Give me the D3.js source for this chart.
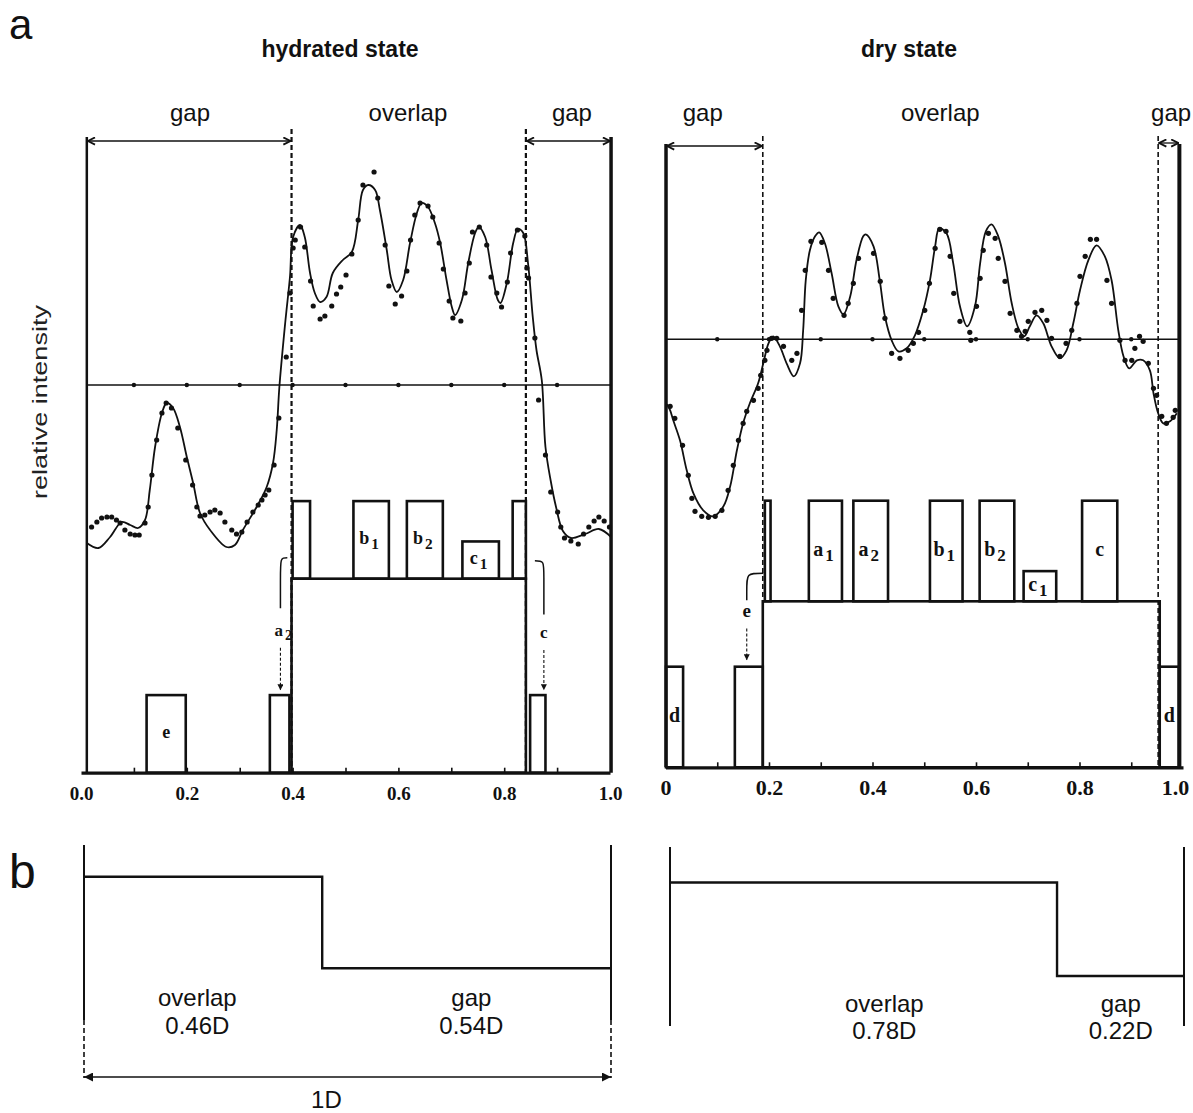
<!DOCTYPE html>
<html>
<head>
<meta charset="utf-8">
<script src="https://cdn.jsdelivr.net/npm/d3@7"></script>
<style>
  body { margin: 0; background: #fff; }
  svg { display: block; }
</style>
</head>
<body>
<script>
var W = 1193, H = 1113
const ink = '#111'

// DATA : x is the fraction of the period D, y is relative intensity (baseline 0)
var hydCurve = [[0.011,-1.58],[0.033,-1.63],[0.055,-1.52],[0.077,-1.37],[0.093,-1.40],[0.108,-1.43],[0.121,-1.35],
  [0.130,-1.05],[0.140,-0.62],[0.153,-0.28],[0.162,-0.18],[0.174,-0.23],[0.187,-0.42],[0.200,-0.72],[0.212,-0.98],
  [0.225,-1.28],[0.244,-1.45],[0.275,-1.62],[0.291,-1.60],[0.306,-1.45],[0.332,-1.22],[0.351,-1.02],[0.363,-0.78],
  [0.370,-0.45],[0.375,-0.02],[0.386,0.62],[0.395,1.08],[0.401,1.48],[0.414,1.60],[0.423,1.48],[0.433,1.12],
  [0.442,0.92],[0.452,0.83],[0.464,0.88],[0.476,1.12],[0.495,1.25],[0.512,1.33],[0.524,1.65],[0.533,1.95],
  [0.543,2.00],[0.556,1.95],[0.565,1.75],[0.578,1.35],[0.587,1.05],[0.597,0.93],[0.609,1.05],[0.622,1.42],
  [0.635,1.72],[0.644,1.82],[0.656,1.78],[0.669,1.62],[0.679,1.42],[0.691,1.05],[0.701,0.78],[0.707,0.70],
  [0.720,0.85],[0.732,1.22],[0.745,1.52],[0.752,1.58],[0.764,1.48],[0.776,1.15],[0.788,0.85],[0.793,0.82],
  [0.805,1.02],[0.817,1.42],[0.826,1.56],[0.836,1.52],[0.845,1.22],[0.854,0.68],[0.861,0.35],[0.871,0.05],
  [0.878,-0.62],[0.888,-0.96],[0.898,-1.22],[0.911,-1.46],[0.926,-1.53],[0.953,-1.49],[0.979,-1.44],[1.002,-1.52]]

var hydDots = [[0.020,-1.42],[0.030,-1.37],[0.039,-1.33],[0.049,-1.32],[0.058,-1.32],[0.067,-1.35],[0.074,-1.38],
  [0.083,-1.45],[0.093,-1.49],[0.102,-1.50],[0.110,-1.50],[0.121,-1.38],[0.127,-1.22],[0.134,-0.90],[0.143,-0.55],
  [0.153,-0.28],[0.161,-0.18],[0.171,-0.23],[0.183,-0.43],[0.198,-0.75],[0.211,-1.00],[0.219,-1.22],[0.225,-1.31],
  [0.234,-1.30],[0.244,-1.27],[0.253,-1.25],[0.263,-1.28],[0.272,-1.37],[0.285,-1.45],[0.294,-1.49],[0.304,-1.47],
  [0.314,-1.37],[0.325,-1.27],[0.335,-1.20],[0.342,-1.15],[0.348,-1.10],[0.355,-1.05],[0.365,-0.80],[0.374,-0.33],
  [0.388,0.28],[0.395,0.92],[0.401,1.37],[0.405,1.45],[0.415,1.58],[0.423,1.38],[0.434,1.04],[0.439,0.79],
  [0.452,0.66],[0.461,0.69],[0.474,0.79],[0.483,0.91],[0.491,0.98],[0.501,1.10],[0.512,1.31],[0.524,1.65],
  [0.533,2.00],[0.554,2.13],[0.561,1.87],[0.575,1.40],[0.582,0.99],[0.594,0.81],[0.606,0.89],[0.616,1.14],
  [0.623,1.45],[0.631,1.70],[0.641,1.82],[0.656,1.79],[0.665,1.68],[0.677,1.42],[0.685,1.16],[0.696,0.84],
  [0.703,0.67],[0.718,0.64],[0.726,0.92],[0.734,1.22],[0.740,1.53],[0.753,1.58],[0.767,1.40],[0.775,1.08],
  [0.786,0.92],[0.795,0.78],[0.806,1.03],[0.812,1.32],[0.825,1.55],[0.839,1.49],[0.843,1.17],[0.846,1.07],
  [0.858,0.47],[0.865,-0.15],[0.878,-0.70],[0.888,-1.07],[0.901,-1.27],[0.907,-1.42],[0.914,-1.53],[0.926,-1.56],
  [0.940,-1.59],[0.950,-1.49],[0.960,-1.42],[0.970,-1.36],[0.979,-1.32],[0.989,-1.36],[0.999,-1.42]]

var dryCurve = [[0.003,-0.65],[0.009,-0.71],[0.015,-0.81],[0.028,-1.01],[0.041,-1.31],[0.054,-1.54],[0.073,-1.71],
  [0.092,-1.77],[0.112,-1.67],[0.125,-1.47],[0.138,-1.11],[0.150,-0.84],[0.163,-0.64],[0.179,-0.44],[0.189,-0.24],
  [0.199,-0.04],[0.208,0.03],[0.221,-0.07],[0.234,-0.24],[0.248,-0.37],[0.260,-0.24],[0.266,0.09],[0.271,0.59],
  [0.279,0.89],[0.289,1.03],[0.297,1.07],[0.308,0.96],[0.321,0.66],[0.334,0.33],[0.344,0.25],[0.357,0.43],
  [0.369,0.79],[0.382,1.03],[0.387,1.05],[0.402,0.93],[0.414,0.59],[0.424,0.23],[0.437,-0.01],[0.450,-0.12],
  [0.466,-0.09],[0.482,0.04],[0.498,0.29],[0.511,0.59],[0.521,0.93],[0.529,1.11],[0.543,1.06],[0.556,0.76],
  [0.569,0.33],[0.583,0.13],[0.598,0.33],[0.608,0.76],[0.619,1.08],[0.630,1.15],[0.643,1.03],[0.656,0.76],
  [0.669,0.36],[0.682,0.11],[0.693,0.03],[0.704,0.13],[0.717,0.24],[0.730,0.16],[0.746,-0.07],[0.762,-0.19],
  [0.775,-0.11],[0.788,0.16],[0.801,0.49],[0.817,0.79],[0.833,0.94],[0.849,0.83],[0.862,0.59],[0.875,0.09],
  [0.885,-0.17],[0.896,-0.29],[0.911,-0.21],[0.923,-0.21],[0.936,-0.31],[0.943,-0.54],[0.952,-0.74],[0.962,-0.84],
  [0.975,-0.82],[0.988,-0.74]]

var dryDots = [[0.009,-0.67],[0.018,-0.79],[0.033,-1.06],[0.044,-1.36],[0.051,-1.59],[0.057,-1.72],[0.070,-1.77],
  [0.083,-1.78],[0.096,-1.77],[0.109,-1.71],[0.121,-1.51],[0.131,-1.26],[0.141,-1.01],[0.150,-0.84],[0.157,-0.72],
  [0.170,-0.61],[0.179,-0.49],[0.184,-0.36],[0.192,-0.21],[0.196,-0.11],[0.205,0.01],[0.215,0.01],[0.228,-0.07],
  [0.244,-0.21],[0.254,-0.14],[0.263,0.29],[0.270,0.69],[0.281,0.98],[0.302,0.97],[0.315,0.69],[0.324,0.41],
  [0.345,0.24],[0.353,0.36],[0.363,0.56],[0.373,0.81],[0.402,0.86],[0.415,0.58],[0.424,0.21],[0.437,-0.14],
  [0.453,-0.19],[0.469,-0.11],[0.479,-0.04],[0.489,0.07],[0.501,0.29],[0.510,0.56],[0.521,0.91],[0.530,1.10],
  [0.542,1.08],[0.550,0.83],[0.557,0.46],[0.569,0.18],[0.588,0.07],[0.590,-0.01],[0.601,0.33],[0.608,0.61],
  [0.614,0.89],[0.624,1.06],[0.637,1.01],[0.643,0.81],[0.656,0.58],[0.666,0.26],[0.679,0.09],[0.688,0.03],
  [0.695,0.08],[0.701,0.18],[0.714,0.27],[0.727,0.29],[0.737,0.19],[0.746,0.01],[0.762,-0.17],[0.774,-0.04],
  [0.785,0.09],[0.795,0.36],[0.801,0.63],[0.811,0.83],[0.821,1.00],[0.833,1.00],[0.853,0.59],[0.862,0.36],
  [0.878,-0.01],[0.888,-0.21],[0.901,-0.21],[0.907,-0.09],[0.916,0.03],[0.923,-0.02],[0.933,-0.24],[0.943,-0.49],
  [0.949,-0.56],[0.959,-0.77],[0.968,-0.84],[0.981,-0.78],[0.985,-0.71]]

var majorTicks = [0, 0.2, 0.4, 0.6, 0.8, 1.0]
var minorTicks = [0.1, 0.2, 0.3, 0.4, 0.5, 0.6, 0.7, 0.8, 0.9]

// step model boxes: x0/x1 as fraction of D, h0/h1 in box-height units
var hydBoxes = [
  {x0: 0.124, x1: 0.198, h0: 0, h1: 1, label: 'e'},
  {x0: 0.357, x1: 0.394, h0: 0, h1: 1},
  {x0: 0.398, x1: 0.841, h0: 0, h1: 2.5},
  {x0: 0.400, x1: 0.433, h0: 2.5, h1: 3.5},
  {x0: 0.515, x1: 0.582, h0: 2.5, h1: 3.5, label: 'b', sub: '1'},
  {x0: 0.616, x1: 0.684, h0: 2.5, h1: 3.5, label: 'b', sub: '2'},
  {x0: 0.721, x1: 0.790, h0: 2.5, h1: 2.98, label: 'c', sub: '1'},
  {x0: 0.816, x1: 0.841, h0: 2.5, h1: 3.5},
  {x0: 0.849, x1: 0.878, h0: 0, h1: 1}
]
var dryBoxes = [
  {x0: 0.001, x1: 0.034, h0: 0, h1: 1, label: 'd'},
  {x0: 0.134, x1: 0.188, h0: 0, h1: 1},
  {x0: 0.188, x1: 0.955, h0: 0, h1: 1.65},
  {x0: 0.192, x1: 0.203, h0: 1.65, h1: 2.65},
  {x0: 0.277, x1: 0.341, h0: 1.65, h1: 2.65, label: 'a', sub: '1'},
  {x0: 0.363, x1: 0.430, h0: 1.65, h1: 2.65, label: 'a', sub: '2'},
  {x0: 0.511, x1: 0.574, h0: 1.65, h1: 2.65, label: 'b', sub: '1'},
  {x0: 0.607, x1: 0.674, h0: 1.65, h1: 2.65, label: 'b', sub: '2'},
  {x0: 0.692, x1: 0.755, h0: 1.65, h1: 1.95, label: 'c', sub: '1'},
  {x0: 0.805, x1: 0.873, h0: 1.65, h1: 2.65, label: 'c'},
  {x0: 0.955, x1: 0.992, h0: 0, h1: 1, label: 'd'}
]

// hooked arrows that point a label to a shifted box
var hydNotes = [
  {label: 'a', sub: '2', hx0: 0.390, hy0: 2.77, hx1: 0.377, hy1: 2.47, lineTo: 2.12, labelY: 1.74, dashFrom: 1.61, tip: 1.07},
  {label: 'c', hx0: 0.858, hy0: 2.73, hx1: 0.875, hy1: 2.51, lineTo: 2.04, labelY: 1.71, dashFrom: 1.58, tip: 1.07}
]
var dryNotes = [
  {label: 'e', hx0: 0.189, hy0: 1.93, hx1: 0.157, hy1: 1.745, lineTo: 1.66, labelY: 1.47, dashFrom: 1.38, tip: 1.07}
]

// gap / overlap zones (boundaries and label positions, fraction of D)
var hydBounds = [0.398, 0.841]
var dryBounds = [0.188, 0.952]
var zoneNames = ['gap', 'overlap', 'gap']
var hydZoneLabelX = [0.206, 0.618, 0.928]
var dryZoneLabelX = [0.072, 0.531, 0.977]

// panel b
var bSplit = [0.452, 0.753]
var bOverlap = ['0.46D', '0.78D']
var bGap = ['0.54D', '0.22D']
var bLabelX = [[0.215, 0.735], [0.417, 0.877]]


// SVG
var svg = d3.select('body').append('svg')
    .attr('width', W)
    .attr('height', H)
    .style('font-family', 'Arial, "Liberation Sans", sans-serif')

var defs = svg.append('defs')
defs.append('marker')
    .attr('id', 'chev')
    .attr('viewBox', '0 0 10 10')
    .attr('refX', 9).attr('refY', 5)
    .attr('markerWidth', 9).attr('markerHeight', 9)
    .attr('markerUnits', 'userSpaceOnUse')
    .attr('orient', 'auto-start-reverse')
  .append('path')
    .attr('d', 'M1,1 L9,5 L1,9')
    .attr('fill', 'none')
    .attr('stroke', ink)
    .attr('stroke-width', 2)
defs.append('marker')
    .attr('id', 'tri')
    .attr('viewBox', '0 0 10 10')
    .attr('refX', 9).attr('refY', 5)
    .attr('markerWidth', 7).attr('markerHeight', 6)
    .attr('markerUnits', 'userSpaceOnUse')
    .attr('orient', 'auto')
  .append('path')
    .attr('d', 'M0,0 L10,5 L0,10 Z')
    .attr('fill', ink)
defs.append('marker')
    .attr('id', 'bigtri')
    .attr('viewBox', '0 0 10 10')
    .attr('refX', 10).attr('refY', 5)
    .attr('markerWidth', 16).attr('markerHeight', 9)
    .attr('markerUnits', 'userSpaceOnUse')
    .attr('orient', 'auto-start-reverse')
  .append('path')
    .attr('d', 'M0,0 L10,5 L0,10 Z')
    .attr('fill', ink)

// panel letters, y label
svg.append('text').attr('x', 9).attr('y', 39).attr('font-size', 42).attr('fill', ink).text('a')
svg.append('text').attr('x', 9).attr('y', 888).attr('font-size', 48).attr('fill', ink).text('b')

svg.append('text')
    .attr('transform', 'translate(47,402) rotate(-90)')
    .attr('text-anchor', 'middle')
    .attr('font-size', 21)
    .attr('textLength', 194)
    .attr('lengthAdjust', 'spacingAndGlyphs')
    .attr('fill', '#222')
    .text('relative intensity')

var panels = [
  {
    title: 'hydrated state', titleX: 340,
    x: d3.scaleLinear().domain([0, 1]).range([81, 610]),
    y: d3.scaleLinear().domain([-1, 1]).range([485, 285]),
    yb: d3.scaleLinear().domain([0, 1]).range([772.7, 695.1]),
    top: 137, arrowY: [141, 141], frame: [0.011, 1.002], frameW: [2.5, 3.5],
    bounds: hydBounds, zoneX: hydZoneLabelX, dashW: 2.2,
    curve: hydCurve, dots: hydDots, boxes: hydBoxes, notes: hydNotes,
    fmt: d3.format('.1f'), tickFont: 19, tickPad: 14, boxFont: 18, lastShift: 0
  },
  {
    title: 'dry state', titleX: 909,
    x: d3.scaleLinear().domain([0, 1]).range([665.5, 1183]),
    y: d3.scaleLinear().domain([-1, 1]).range([439.3, 239.3]),
    yb: d3.scaleLinear().domain([0, 1]).range([767.3, 666.7]),
    top: 144, arrowY: [146, 143], frame: [0.001, 0.993], frameW: [3.5, 4],
    bounds: dryBounds, zoneX: dryZoneLabelX, dashW: 1.6,
    curve: dryCurve, dots: dryDots, boxes: dryBoxes, notes: dryNotes,
    fmt: function(d) { return d === 0 ? '0' : d3.format('.1f')(d) }, tickFont: 22, tickPad: 12, boxFont: 20, lastShift: -8
  }
]

panels.forEach(drawPanel)

function label(g, txt, sub, x, y, size) {
  let t = g.append('text')
      .attr('x', x).attr('y', y)
      .attr('text-anchor', 'middle')
      .attr('dominant-baseline', 'middle')
      .attr('font-family', '"Liberation Serif", "Times New Roman", serif')
      .attr('font-weight', 'bold')
      .attr('font-size', size)
      .attr('fill', ink)
  t.append('tspan').text(txt)
  if (sub) {
    t.append('tspan').attr('dx', 2).attr('dy', size * 0.3).attr('font-size', size * 0.85).text(sub)
  }
  return t
}

function drawPanel(p) {
  let g = svg.append('g')
  let x = p.x, y = p.y, yb = p.yb
  let bottom = yb(0)

  g.append('text')
      .attr('x', p.titleX).attr('y', 57)
      .attr('text-anchor', 'middle')
      .attr('font-size', 23)
      .attr('font-weight', 'bold')
      .attr('fill', ink)
      .text(p.title)

  // frame
  g.selectAll('line.frame')
    .data(p.frame)
    .enter().append('line')
      .attr('class', 'frame')
      .attr('x1', d => x(d)).attr('x2', d => x(d))
      .attr('y1', p.top).attr('y2', bottom)
      .attr('stroke', ink)
      .attr('stroke-width', (d, i) => p.frameW[i])

  // gap / overlap boundaries
  g.selectAll('line.bound')
    .data(p.bounds)
    .enter().append('line')
      .attr('class', 'bound')
      .attr('x1', d => x(d)).attr('x2', d => x(d))
      .attr('y1', p.top - 8).attr('y2', bottom)
      .attr('stroke', ink)
      .attr('stroke-width', p.dashW)
      .attr('stroke-dasharray', '5,3')

  let edges = [p.frame[0], p.bounds[1]]
  let ends = [p.bounds[0], p.frame[1]]
  g.selectAll('line.span')
    .data(edges)
    .enter().append('line')
      .attr('class', 'span')
      .attr('x1', d => x(d) + 1)
      .attr('x2', (d, i) => x(ends[i]) - 1)
      .attr('y1', (d, i) => p.arrowY[i]).attr('y2', (d, i) => p.arrowY[i])
      .attr('stroke', ink)
      .attr('stroke-width', 1.3)
      .attr('marker-start', 'url(#chev)')
      .attr('marker-end', 'url(#chev)')

  g.selectAll('text.zone')
    .data(zoneNames)
    .enter().append('text')
      .attr('class', 'zone')
      .attr('x', (d, i) => x(p.zoneX[i]))
      .attr('y', 121)
      .attr('text-anchor', 'middle')
      .attr('font-size', 24)
      .attr('fill', ink)
      .text(d => d)

  // baseline with markers
  g.append('line')
      .attr('x1', x(p.frame[0])).attr('x2', x(p.frame[1]))
      .attr('y1', y(0)).attr('y2', y(0))
      .attr('stroke', ink)
      .attr('stroke-width', 1.6)
  g.selectAll('circle.mark')
    .data(minorTicks)
    .enter().append('circle')
      .attr('class', 'mark')
      .attr('cx', d => x(d)).attr('cy', y(0))
      .attr('r', 2.2)
      .attr('fill', ink)

  // boxes
  g.selectAll('rect.box')
    .data(p.boxes)
    .enter().append('rect')
      .attr('class', 'box')
      .attr('x', d => x(d.x0))
      .attr('y', d => yb(d.h1))
      .attr('width', d => x(d.x1) - x(d.x0))
      .attr('height', d => yb(d.h0) - yb(d.h1))
      .attr('fill', 'none')
      .attr('stroke', ink)
      .attr('stroke-width', 2.6)

  p.boxes.filter(d => d.label).forEach(function(d) {
    label(g, d.label, d.sub, (x(d.x0) + x(d.x1)) / 2 - (d.sub ? 2 : 0), yb((d.h0 + d.h1) / 2), p.boxFont)
  })

  // notes
  p.notes.forEach(function(n) {
    let x0 = x(n.hx0), y0 = yb(n.hy0), x1 = x(n.hx1), y1 = yb(n.hy1)
    g.append('path')
        .attr('d', `M${x0},${y0} C${x1},${y0} ${x1},${y0} ${x1},${y1} L${x1},${yb(n.lineTo)}`)
        .attr('fill', 'none')
        .attr('stroke', ink)
        .attr('stroke-width', 1.5)
    label(g, n.label, n.sub, x1 + (n.sub ? 3 : 0), yb(n.labelY) - 6, p.boxFont - 1)
    g.append('line')
        .attr('x1', x1).attr('x2', x1)
        .attr('y1', yb(n.dashFrom)).attr('y2', yb(n.tip))
        .attr('stroke', ink)
        .attr('stroke-width', 1.1)
        .attr('stroke-dasharray', '3,2')
        .attr('marker-end', 'url(#tri)')
  })

  // profile: fitted line and measured points
  let line = d3.line()
      .x(d => x(d[0]))
      .y(d => y(d[1]))
      .curve(d3.curveCatmullRom.alpha(0.5))
  g.append('path')
      .datum(p.curve)
      .attr('d', line)
      .attr('fill', 'none')
      .attr('stroke', ink)
      .attr('stroke-width', 1.8)
  g.selectAll('circle.dot')
    .data(p.dots)
    .enter().append('circle')
      .attr('class', 'dot')
      .attr('cx', d => x(d[0]))
      .attr('cy', d => y(d[1]))
      .attr('r', 2.6)
      .attr('fill', ink)

  // x axis
  let minor = g.append('g')
      .attr('transform', `translate(0,${bottom})`)
      .call(d3.axisBottom(x).tickValues(minorTicks).tickSize(-5).tickSizeOuter(0).tickFormat(''))
  minor.select('.domain').attr('stroke', ink).attr('stroke-width', 3.2)
  minor.selectAll('.tick line').attr('stroke', ink).attr('stroke-width', 1.6)

  let major = g.append('g')
      .attr('transform', `translate(0,${bottom})`)
      .call(d3.axisBottom(x).tickValues(majorTicks).tickSize(0).tickPadding(p.tickPad).tickFormat(p.fmt))
  major.select('.domain').remove()
  major.selectAll('text')
      .attr('font-family', '"Liberation Serif", "Times New Roman", serif')
      .attr('font-weight', 'bold')
      .attr('font-size', p.tickFont)
      .attr('fill', ink)
  major.selectAll('text')
      .filter(d => d === 1)
      .attr('dx', p.lastShift)
}

// PANEL b : step models of overlap and gap
var bPanels = [
  {x: d3.scaleLinear().domain([0, 1]).range([84, 611]), y: d3.scaleLinear().domain([0, 1]).range([968.3, 876.7]),
   vTop: 845, vBot: 1020, textY: [1006, 1034], span: true},
  {x: d3.scaleLinear().domain([0, 1]).range([670, 1184]), y: d3.scaleLinear().domain([0, 1]).range([976, 882.5]),
   vTop: 847, vBot: 1026, textY: [1012, 1039], span: false}
]

bPanels.forEach(function(b, i) {
  let g = svg.append('g')
  let x = b.x, y = b.y
  let steps = [[0, 1], [bSplit[i], 1], [bSplit[i], 0], [1, 0]]

  g.selectAll('line.edge')
    .data([0, 1])
    .enter().append('line')
      .attr('class', 'edge')
      .attr('x1', d => x(d)).attr('x2', d => x(d))
      .attr('y1', b.vTop).attr('y2', b.vBot)
      .attr('stroke', ink)
      .attr('stroke-width', 2)

  g.append('path')
      .datum(steps)
      .attr('d', d3.line().x(d => x(d[0])).y(d => y(d[1])))
      .attr('fill', 'none')
      .attr('stroke', ink)
      .attr('stroke-width', 2.4)

  let texts = [['overlap', bOverlap[i]], ['gap', bGap[i]]]
  texts.forEach(function(t, j) {
    t.forEach(function(s, k) {
      g.append('text')
          .attr('x', x(bLabelX[i][j]))
          .attr('y', b.textY[k])
          .attr('text-anchor', 'middle')
          .attr('font-size', 24)
          .attr('fill', ink)
          .text(s)
    })
  })

  if (b.span) {
    g.selectAll('line.ext')
      .data([0, 1])
      .enter().append('line')
        .attr('class', 'ext')
        .attr('x1', d => x(d)).attr('x2', d => x(d))
        .attr('y1', b.vBot).attr('y2', 1078)
        .attr('stroke', ink)
        .attr('stroke-width', 1.6)
        .attr('stroke-dasharray', '5,3')
    g.append('line')
        .attr('x1', x(0)).attr('x2', x(1))
        .attr('y1', 1077).attr('y2', 1077)
        .attr('stroke', ink)
        .attr('stroke-width', 1.6)
        .attr('marker-start', 'url(#bigtri)')
        .attr('marker-end', 'url(#bigtri)')
    g.append('text')
        .attr('x', x(0.46)).attr('y', 1108)
        .attr('text-anchor', 'middle')
        .attr('font-size', 24)
        .attr('fill', ink)
        .text('1D')
  }
})
</script>
</body>
</html>
